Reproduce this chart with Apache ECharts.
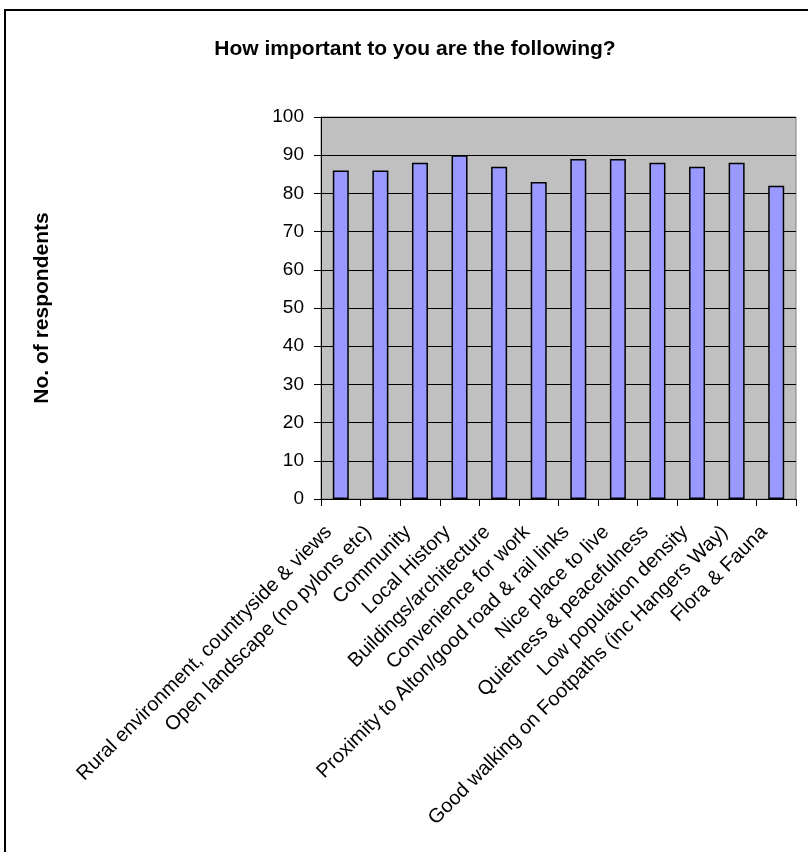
<!DOCTYPE html>
<html>
<head>
<meta charset="utf-8">
<script src="https://cdn.jsdelivr.net/npm/echarts@6/dist/echarts.min.js"></script>
<style>
html,body{margin:0;padding:0;background:#fff;}
#chart{width:808px;height:852px;}
</style>
</head>
<body>
<div id="chart"></div>
<script>
const titleText = 'How important to you are the following?';
const yAxisName = 'No. of respondents';
const categories = [
  'Rural environment, countryside & views',
  'Open landscape (no pylons etc)',
  'Community',
  'Local History',
  'Buildings/architecture',
  'Convenience for work',
  'Proximity to Alton/good road & rail links',
  'Nice place to live',
  'Quietness & peacefulness',
  'Low population density',
  'Good walking on Footpaths (inc Hangers Way)',
  'Flora & Fauna'
];
const respondents = [86, 86, 88, 90, 87, 83, 89, 89, 88, 87, 88, 82];

const FONT = '"Liberation Sans", Arial, sans-serif';
const chart = echarts.init(document.getElementById('chart'), null, {renderer: 'canvas'});
chart.setOption({
  animation: false,
  backgroundColor: '#ffffff',
  title: {
    text: titleText,
    left: 410,
    textAlign: 'center',
    top: 34,
    textStyle: {fontFamily: FONT, fontSize: 21, fontWeight: 'bold', color: '#000'}
  },
  graphic: [{
    type: 'rect',
    shape: {x: 5, y: 10, width: 900, height: 900},
    style: {fill: 'none', stroke: '#000', lineWidth: 2},
    silent: true,
    z: -1
  }],
  grid: {
    left: 321, top: 117, right: 12, bottom: 353,
    show: true,
    backgroundColor: '#C0C0C0',
    borderColor: '#808080',
    borderWidth: 1
  },
  xAxis: {
    type: 'category',
    data: categories,
    boundaryGap: true,
    axisLine: {show: true, lineStyle: {color: '#000', width: 1}},
    axisTick: {show: true, length: 7, alignWithLabel: false, lineStyle: {color: '#000'}},
    axisLabel: {
      interval: 0,
      rotate: 45,
      margin: 18,
      padding: [0, 17, 0, 0],
      fontFamily: FONT,
      fontSize: 20,
      color: '#000'
    },
    splitLine: {show: false}
  },
  yAxis: {
    type: 'value',
    min: 0, max: 100, interval: 10,
    name: yAxisName,
    nameLocation: 'middle',
    nameRotate: 90,
    nameGap: 268,
    nameTextStyle: {fontFamily: FONT, fontSize: 21, fontWeight: 'bold', color: '#000'},
    axisLine: {show: true, lineStyle: {color: '#000', width: 1}},
    axisTick: {show: true, length: 7, lineStyle: {color: '#000'}},
    axisLabel: {fontFamily: FONT, fontSize: 19, color: '#000', margin: 17},
    splitLine: {show: true, lineStyle: {color: '#000', width: 1}}
  },
  series: [{
    type: 'bar',
    data: respondents,
    barWidth: 16,
    itemStyle: {color: '#9999FF', borderColor: '#000', borderWidth: 1.5}
  }]
});
</script>
</body>
</html>
